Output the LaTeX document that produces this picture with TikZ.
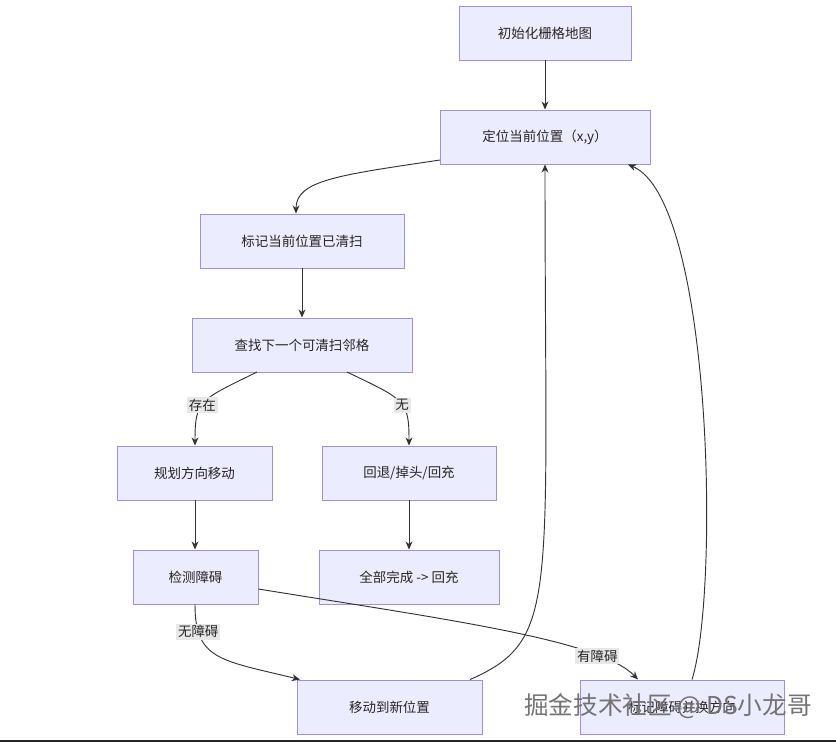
\documentclass[tikz,border=0pt]{standalone}
\usepackage{fontspec}
\setmainfont{Noto Sans CJK SC}
\usetikzlibrary{arrows.meta}
\definecolor{nfill}{HTML}{ECECFF}
\definecolor{ndraw}{HTML}{9E8FE0}
\definecolor{lbg}{HTML}{E8E8E8}
\begin{document}
\begin{tikzpicture}[x=0.03cm,y=-0.03cm,
  box/.style={draw=ndraw,fill=nfill,line width=0.8pt,minimum height=1.62cm,inner sep=0pt,font=\fontsize{11.5}{13}\selectfont,text=black!85},
  arr/.style={draw=black!80,line width=0.8pt,-{Stealth[length=7pt,width=6pt]}},
  lab/.style={fill=lbg,inner sep=1.5pt,font=\fontsize{11.5}{13}\selectfont,text=black!85}]
\useasboundingbox (0,0) rectangle (836,742);
\node[box,minimum width=5.16cm] (init) at (545,33) {初始化栅格地图};
\node[box,minimum width=6.3cm] (loc) at (545,137) {定位当前位置（x,y）};
\node[box,minimum width=6.12cm] (mark) at (302,241) {标记当前位置已清扫};
\node[box,minimum width=6.6cm] (find) at (302,345) {查找下一个可清扫邻格};
\node[box,minimum width=4.65cm] (plan) at (194.5,473) {规划方向移动};
\node[box,minimum width=5.22cm] (back) at (409,473) {回退/掉头/回充};
\node[box,minimum width=3.75cm] (det) at (195.5,577) {检测障碍};
\node[box,minimum width=5.4cm] (done) at (409,577) {全部完成 -> 回充};
\node[box,minimum width=5.55cm] (move) at (389.5,707) {移动到新位置};
\node[box,minimum width=6.12cm] (obs) at (682,707) {标记障碍并换方向};
\draw[arr] (init) -- (loc);
\draw[arr] (440,160) .. controls (340,175) and (296,180) .. (mark.north -| 296,0);
\draw[arr] (mark) -- (find);
\draw[arr] (257,372) .. controls (200,400) and (195,400) .. (plan.north -| 195,0) node[pos=0.55,lab]{存在};
\draw[arr] (347,372) .. controls (405,400) and (409,400) .. (back.north -| 409,0) node[pos=0.55,lab]{无};
\draw[arr] (plan.south -| 195,0) -- (det.north -| 195,0);
\draw[arr] (back) -- (done.north -| 409,0);
\draw[arr] (det.south -| 195,0) .. controls (195,660) and (220,660) .. (move.north -| 300,0) node[pos=0.2,lab]{无障碍};
\draw[arr] (det.east |- 0,589) .. controls (450,620) and (600,640) .. (obs.north -| 638,0) node[pos=0.78,lab]{有障碍};
\draw[arr] (move.north -| 470,0) .. controls (560,640) and (545,600) .. (loc.south -| 545,0);
\draw[arr] (obs.north -| 692,0) .. controls (720,590) and (712,200) .. (loc.south -| 628,0);
\node[draw=none,text=black!55,font=\fontsize{21}{24}\selectfont] (wm) at (668,706) {掘金技术社区 @ DS小龙哥};
\draw[line width=2pt,black!85] (0,741) -- (836,741);
\end{tikzpicture}
\end{document}
